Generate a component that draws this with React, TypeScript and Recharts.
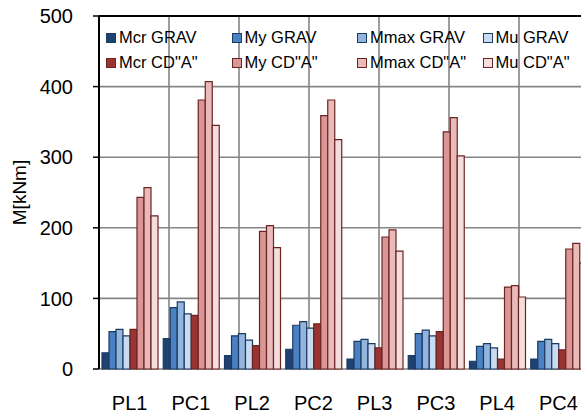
import { BarChart, Bar, XAxis, YAxis, CartesianGrid, ReferenceLine } from "recharts";

// beam labels along the x axis
const categories = ["PL1", "PC1", "PL2", "PC2", "PL3", "PC3", "PL4", "PC4"];

// moments in kNm, GRAV series
const mcrGrav = [23, 43, 19, 28, 14, 19, 11, 14];
const myGrav = [53, 87, 47, 62, 39, 50, 32, 39];
const mmaxGrav = [56, 95, 50, 67, 42, 55, 36, 42];
const muGrav = [47, 78, 41, 58, 36, 47, 30, 36];

// moments in kNm, CD"A" series
const mcrCd = [56, 76, 33, 64, 30, 53, 14, 27];
const myCd = [243, 381, 195, 359, 187, 336, 116, 170];
const mmaxCd = [257, 407, 203, 381, 197, 356, 118, 178];
const muCd = [217, 345, 172, 325, 167, 302, 102, 150];

const yTicks = [0, 100, 200, 300, 400, 500];

const BLUE_EDGE = "#1b3a62";
const RED_EDGE = "#6b2422";

const series = [
  { key: "mcrGrav", name: "Mcr GRAV", values: mcrGrav, fill: "#1f4273", stroke: BLUE_EDGE },
  { key: "myGrav", name: "My GRAV", values: myGrav, fill: "#4a80c4", stroke: BLUE_EDGE },
  { key: "mmaxGrav", name: "Mmax GRAV", values: mmaxGrav, fill: "#93b4dc", stroke: BLUE_EDGE },
  { key: "muGrav", name: "Mu GRAV", values: muGrav, fill: "#c9dbf0", stroke: BLUE_EDGE },
  { key: "mcrCd", name: 'Mcr CD"A"', values: mcrCd, fill: "#9a3432", stroke: RED_EDGE },
  { key: "myCd", name: 'My CD"A"', values: myCd, fill: "#d99694", stroke: RED_EDGE },
  { key: "mmaxCd", name: 'Mmax CD"A"', values: mmaxCd, fill: "#e8bab9", stroke: RED_EDGE },
  { key: "muCd", name: 'Mu CD"A"', values: muCd, fill: "#f4dedd", stroke: RED_EDGE },
];

const data = categories.map((name, i) => {
  const row: any = { name };
  series.forEach((s) => (row[s.key] = s.values[i]));
  return row;
});

// category boundaries, used for the vertical grid and the x tick marks
const boundaries = [...categories.map((_, i) => i), categories.length];

const FONT = "'Liberation Sans', Arial, sans-serif";

export default function App() {
  return (
    <div
      style={{
        position: "fixed",
        left: 0,
        top: 0,
        width: 581,
        height: 416,
        overflow: "hidden",
        background: "#fff",
        fontFamily: FONT,
      }}
    >
      <BarChart
        width={600}
        height={416}
        data={data}
        margin={{ top: 16, right: 11, bottom: 0, left: 0 }}
        barGap={0}
        barCategoryGap={3}
      >
        <XAxis
          xAxisId="grid"
          type="number"
          domain={[0, categories.length]}
          ticks={boundaries}
          height={0}
          tickFormatter={() => ""}
          tickSize={5}
          axisLine={{ stroke: "#000", strokeWidth: 2 }}
          tickLine={{ stroke: "#000", strokeWidth: 1.5 }}
        />
        <XAxis
          dataKey="name"
          height={47}
          axisLine={false}
          tickLine={false}
          tickSize={0}
          tickMargin={27}
          interval={0}
          tick={{ fill: "#000", fontSize: 20, fontFamily: FONT }}
        />
        <YAxis
          domain={[0, 500]}
          ticks={yTicks}
          width={99}
          tickSize={6}
          tickMargin={20}
          axisLine={{ stroke: "#000", strokeWidth: 2 }}
          tickLine={{ stroke: "#000", strokeWidth: 1.5 }}
          tick={{ fill: "#000", fontSize: 20, fontFamily: FONT }}
          label={{
            value: "M[kNm]",
            angle: -90,
            position: "insideLeft",
            offset: 19,
            fill: "#000",
            fontSize: 19,
            fontFamily: FONT,
            style: { textAnchor: "middle" },
          }}
        />
        <CartesianGrid xAxisId="grid" stroke="#858585" strokeWidth={1.6} />
        <ReferenceLine y={500} stroke="#000" strokeWidth={2} />
        {series.map((s) => (
          <Bar
            key={s.key}
            dataKey={s.key}
            name={s.name}
            fill={s.fill}
            stroke={s.stroke}
            strokeWidth={1.2}
            isAnimationActive={false}
          />
        ))}
      </BarChart>
      <div
        style={{
          position: "absolute",
          left: 106,
          top: 25,
          display: "grid",
          gridTemplateColumns: "repeat(4, 125.5px)",
          gridAutoRows: "25px",
          fontSize: 16.5,
          color: "#000",
        }}
      >
        {[0, 1].flatMap((row) =>
          [0, 1, 2, 3].map((col) => {
            const s = series[row * 4 + col];
            return (
              <div key={s.key} style={{ display: "flex", alignItems: "center", whiteSpace: "nowrap" }}>
                <span
                  style={{
                    display: "inline-block",
                    width: 8,
                    height: 8,
                    background: s.fill,
                    border: `1.5px solid ${s.stroke}`,
                    marginRight: 3,
                  }}
                />
                {s.name}
              </div>
            );
          })
        )}
      </div>
    </div>
  );
}
